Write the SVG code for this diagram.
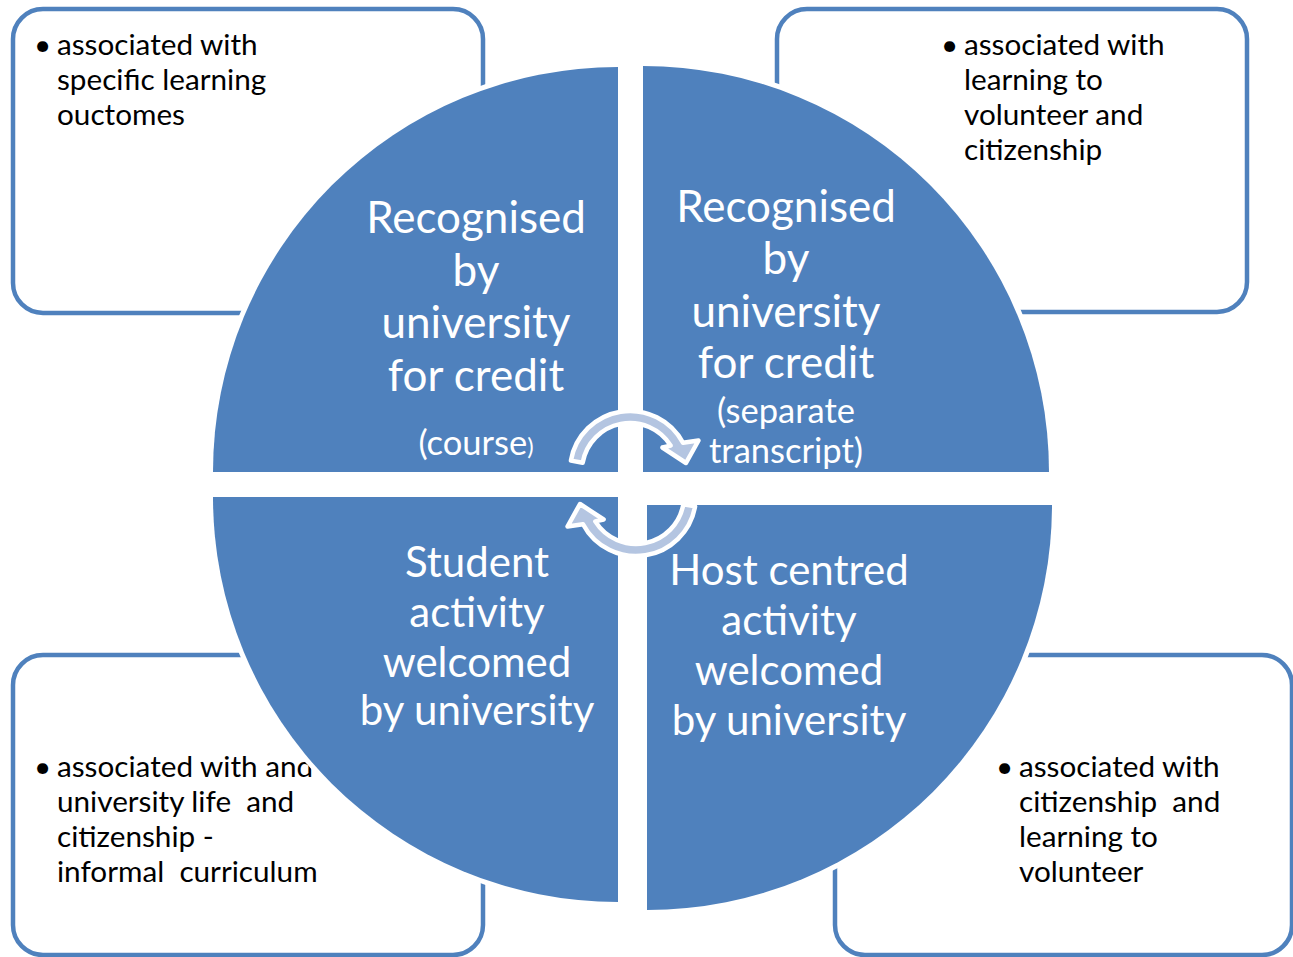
<svg xmlns="http://www.w3.org/2000/svg" width="1293" height="957" viewBox="0 0 1293 957">
<style>
.box{fill:#ffffff;stroke:#4F81BD;stroke-width:4.5}
.quad{fill:#4F81BD;stroke:#ffffff;stroke-width:10;paint-order:stroke}
.bt{font-family:Lato,"Liberation Sans",sans-serif;font-size:29.7px;fill:#000000;white-space:pre}
.qt{font-family:Lato,"Liberation Sans",sans-serif;font-size:42px;fill:#ffffff;text-anchor:middle}
.qt2{font-family:Lato,"Liberation Sans",sans-serif;font-size:44px;fill:#ffffff;text-anchor:middle}
.qs{font-family:Lato,"Liberation Sans",sans-serif;font-size:34.5px;fill:#ffffff;text-anchor:middle}
.arr{fill:#B4C5E1;stroke:#ffffff;stroke-width:4.5;stroke-linejoin:round}
</style>
<rect width="1293" height="957" fill="#ffffff"/>
<g id="box-tl">
<rect class="box" x="13" y="9" width="470" height="304" rx="30"/>
<text class="bt"><tspan x="34" y="55">•</tspan><tspan x="57" y="55">associated with</tspan><tspan x="57" y="90">specific learning</tspan><tspan x="57" y="125">ouctomes</tspan></text>
</g>
<g id="box-tr">
<rect class="box" x="777" y="9" width="470" height="303" rx="30"/>
<text class="bt"><tspan x="941" y="55">•</tspan><tspan x="964" y="55">associated with</tspan><tspan x="964" y="90">learning to</tspan><tspan x="964" y="125">volunteer and</tspan><tspan x="964" y="160">citizenship</tspan></text>
</g>
<g id="box-bl">
<rect class="box" x="13" y="655" width="470" height="300" rx="30"/>
<text class="bt" xml:space="preserve"><tspan x="34" y="777">•</tspan><tspan x="57" y="777">associated with and</tspan><tspan x="57" y="812">university life  and</tspan><tspan x="57" y="847">citizenship -</tspan><tspan x="57" y="882">informal  curriculum</tspan></text>
</g>
<g id="box-br">
<rect class="box" x="835" y="655" width="457" height="300" rx="30"/>
<text class="bt" xml:space="preserve"><tspan x="996" y="777">•</tspan><tspan x="1019" y="777">associated with</tspan><tspan x="1019" y="812">citizenship  and</tspan><tspan x="1019" y="847">learning to</tspan><tspan x="1019" y="882">volunteer</tspan></text>
</g>
<g id="quad-tl">
<path class="quad" d="M618,472 L213,472 A405,405 0 0 1 618,67 Z"/>
<text class="qt2"><tspan x="476" y="233">Recognised</tspan><tspan x="476" y="286">by</tspan><tspan x="476" y="338">university</tspan><tspan x="476" y="391">for credit</tspan></text>
<text class="qs" x="476" y="455">(course<tspan font-size="24px">)</tspan></text>
</g>
<g id="quad-tr">
<path class="quad" d="M643,472 L643,66 A406,406 0 0 1 1049,472 Z"/>
<text class="qt2"><tspan x="786" y="222">Recognised</tspan><tspan x="786" y="274">by</tspan><tspan x="786" y="327">university</tspan><tspan x="786" y="378">for credit</tspan></text>
<text class="qs"><tspan x="786" y="423">(separate</tspan><tspan x="786" y="463">transcript)</tspan></text>
</g>
<g id="quad-bl">
<path class="quad" d="M618,497 L618,902 A405,405 0 0 1 213,497 Z"/>
<text class="qt"><tspan x="477" y="577">Student</tspan><tspan x="477" y="627">activity</tspan><tspan x="477" y="677">welcomed</tspan><tspan x="477" y="725">by university</tspan></text>
</g>
<g id="quad-br">
<path class="quad" d="M647,505 L1052,505 A405,405 0 0 1 647,910 Z"/>
<text class="qt"><tspan x="789" y="585">Host centred</tspan><tspan x="789" y="635">activity</tspan><tspan x="789" y="685">welcomed</tspan><tspan x="789" y="735">by university</tspan></text>
</g>
<g id="connectors">
<path id="arrow-top" class="arr" d="M570.9,460.6 A60,60 0 0 1 683,442.8 L698.5,440.5 L686,463 L662.4,447.5 L670.7,445.6 A48,48 0 0 0 582.7,462.7 Z"/>
<path id="arrow-bottom" class="arr" transform="rotate(180 633 483.5)" d="M570.9,460.6 A60,60 0 0 1 683,442.8 L698.5,440.5 L686,463 L662.4,447.5 L670.7,445.6 A48,48 0 0 0 582.7,462.7 Z"/>
</g>
</svg>
